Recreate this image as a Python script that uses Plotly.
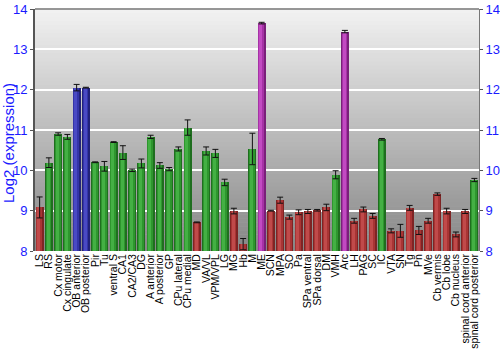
import plotly.graph_objects as go

categories = ["LS", "RS", "Cx motor", "Cx cingulate", "OB anterior", "OB posterior", "Pir", "Tu",
              "ventral S", "CA1", "CA2/CA3", "DG", "A anterior", "A posterior", "GP", "CPu lateral",
              "CPu medial", "MD", "VA/VL", "VPM/VPL", "LG", "MG", "Hb", "M", "ME", "SCN", "MPA", "SO",
              "Pa", "SPa ventral", "SPa dorsal", "DM", "VMH", "Arc", "LH", "PAG", "SC", "IC", "VTA",
              "SN", "Tg", "Pn", "MVe", "Cb vermis", "Cb lobe", "Cb nucleus", "spinal cord anterior",
              "spinal cord posterior"]
values = [9.08, 10.19, 10.90, 10.83, 12.05, 12.05, 10.20, 10.10,
          10.70, 10.44, 10.00, 10.17, 10.83, 10.12, 10.03, 10.53,
          11.06, 8.71, 10.48, 10.42, 9.70, 8.99, 8.17, 10.53, 13.65, 9.00, 9.26, 8.84,
          8.96, 8.98, 9.01, 9.08, 9.89, 13.44, 8.75, 9.03, 8.87, 10.77, 8.50,
          8.50, 9.07, 8.51, 8.75, 9.41, 8.99, 8.41, 8.98,
          9.76]
errors = [0.26, 0.12, 0.03, 0.06, 0.08, 0.01, 0.01, 0.12,
          0.01, 0.17, 0.03, 0.11, 0.04, 0.07, 0.04, 0.05,
          0.19, 0.01, 0.10, 0.10, 0.08, 0.07, 0.14, 0.39, 0.02, 0.01, 0.075, 0.05,
          0.06, 0.05, 0.02, 0.08, 0.10, 0.03, 0.06, 0.06, 0.06, 0.02, 0.05,
          0.16, 0.06, 0.10, 0.06, 0.03, 0.07, 0.06, 0.05,
          0.04]
y_ticks = [8, 9, 10, 11, 12, 13, 14]
y_title = "Log2 (expression)"

# colour levels (dark edge, mid, light centre)
palettes = {
    "red": ["#7e2424", "#a83434", "#c04a4a"],
    "green": ["#1f6e1f", "#2e962e", "#44b044"],
    "blue": ["#22227a", "#3434a8", "#4a4ac4"],
    "purple": ["#7a1f7a", "#a632a6", "#c24ac2"],
}


def level(v):
    if v < 9.5:
        return "red"
    if v < 11.5:
        return "green"
    if v < 13:
        return "blue"
    return "purple"


lv = [level(v) for v in values]

fig = go.Figure()
widths = [0.86, 0.62, 0.34]
offsets_shift = [0.0, -0.04, -0.08]
for i, (w, s) in enumerate(zip(widths, offsets_shift)):
    fig.add_trace(go.Bar(
        x=list(range(len(categories))), y=[v - 8 for v in values], base=8,
        width=w, offset=-w / 2 + s,
        marker=dict(color=[palettes[l][i] for l in lv], line=dict(width=0)),
        showlegend=False, hoverinfo="skip",
    ))
fig.add_trace(go.Scatter(
    x=list(range(len(categories))), y=values, mode="markers",
    marker=dict(size=0.1, color="rgba(0,0,0,0)"),
    error_y=dict(type="data", array=errors, color="#111111", thickness=1, width=3),
    showlegend=False, hoverinfo="skip",
))
fig.add_trace(go.Scatter(x=[0], y=[8], yaxis="y2", mode="markers",
                         marker=dict(color="rgba(0,0,0,0)"), showlegend=False, hoverinfo="skip"))

# background gradient strips
n = 60
top = (0xf2, 0xf2, 0xf2)
bot = (0x86, 0x86, 0x86)
shapes = []
for k in range(n):
    t = (k + 0.5) / n
    c = tuple(int(round(bot[j] + (top[j] - bot[j]) * t)) for j in range(3))
    shapes.append(dict(type="rect", xref="x domain", yref="y domain",
                       x0=0, x1=1, y0=k / n, y1=(k + 1) / n + 0.002, layer="below",
                       fillcolor="rgb(%d,%d,%d)" % c, line=dict(width=0)))
shapes.append(dict(type="line", xref="x domain", yref="y domain", x0=0, x1=1, y0=1, y1=1,
                   line=dict(color="#777777", width=1.5), layer="above"))

fig.update_layout(
    width=500, height=350,
    margin=dict(l=35, r=21, t=9, b=99, autoexpand=False),
    paper_bgcolor="white", plot_bgcolor="#bbbbbb",
    barmode="overlay", bargap=0,
    shapes=shapes,
    font=dict(family="Liberation Sans, Arial, sans-serif"),
    annotations=[dict(text=y_title, textangle=-90, xref="paper", yref="paper",
                      x=-0.061, y=0.446, xanchor="center", yanchor="middle", showarrow=False,
                      font=dict(size=15, color="#1a1aff"))],
    xaxis=dict(tickmode="array", tickvals=list(range(len(categories))), ticktext=categories,
               tickangle=-90, tickfont=dict(size=10.5, color="black",
                                            family="Liberation Sans, Arial"),
               range=[-0.5, len(categories) - 0.5], showgrid=False, zeroline=False,
               ticks="", showline=False, automargin=False),
    yaxis=dict(range=[8, 14], tickvals=y_ticks, tickfont=dict(size=13, color="#1a1aff"),
               showgrid=True, gridcolor="white", gridwidth=1.5, zeroline=False,
               showline=True, linecolor="#555555", linewidth=2, ticks="outside",
               ticklen=3, tickcolor="#555555", automargin=False),
    yaxis2=dict(range=[8, 14], tickvals=y_ticks, overlaying="y", side="right",
                tickfont=dict(size=13, color="#1a1aff"), showgrid=False, zeroline=False,
                showline=True, linecolor="#777777", linewidth=1, ticks="outside",
                ticklen=3, tickcolor="#555555", automargin=False),
)

fig.write_html("out.html")
